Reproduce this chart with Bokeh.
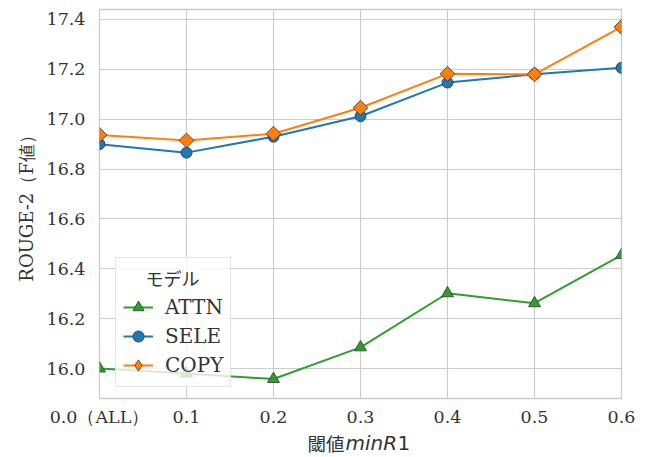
import numpy as np
from bokeh.plotting import figure
from bokeh.layouts import column
from bokeh.models import FixedTicker, Range1d, Legend, LegendItem, Label
from bokeh.embed import file_html
from bokeh.resources import INLINE

# data
thresholds = [0.0, 0.1, 0.2, 0.3, 0.4, 0.5, 0.6]
x_tick_labels = ["0.0（ALL）", "0.1", "0.2", "0.3", "0.4", "0.5", "0.6"]
y_ticks = [16.0, 16.2, 16.4, 16.6, 16.8, 17.0, 17.2, 17.4]
attn = [16.00, 15.98, 15.958, 16.085, 16.302, 16.262, 16.455]
sele = [16.900, 16.866, 16.930, 17.012, 17.147, 17.180, 17.206]
copy_ = [16.937, 16.915, 16.942, 17.046, 17.182, 17.180, 17.370]

SERIF = "DejaVu Serif"
CJK = "Noto Sans CJK JP"
TXT = "#333333"
GRID = "#cccccc"

W = 650
H1 = 429
p = figure(width=W, height=H1, output_backend="svg", toolbar_location=None,
           x_range=Range1d(0.0, 0.6), y_range=Range1d(15.88, 17.44),
           min_border_left=99, min_border_right=29, min_border_top=9, min_border_bottom=H1 - 399)
p.background_fill_color = "white"
p.border_fill_color = "white"
p.outline_line_color = GRID
p.outline_line_width = 1.3

for ax in (p.xaxis[0], p.yaxis[0]):
    ax.axis_line_color = None
    ax.major_tick_line_color = None
    ax.minor_tick_line_color = None
    ax.major_tick_out = 0
    ax.major_tick_in = 0
    ax.minor_tick_out = 0
    ax.minor_tick_in = 0
    ax.major_label_text_font = SERIF
    ax.major_label_text_font_size = "17.5px"
    ax.major_label_text_color = TXT

p.xaxis.ticker = FixedTicker(ticks=thresholds)
p.xaxis.major_label_overrides = {t: l for t, l in zip(thresholds, x_tick_labels)}
p.xaxis.major_label_standoff = 8
p.yaxis.ticker = FixedTicker(ticks=y_ticks)
p.yaxis.major_label_overrides = {t: f"{t:.1f}" for t in y_ticks}
p.yaxis.major_label_standoff = 14
p.yaxis.axis_label = "ROUGE-2（F値）"
p.yaxis.axis_label_text_font = SERIF
p.yaxis.axis_label_text_font_size = "18px"
p.yaxis.axis_label_text_font_style = "normal"
p.yaxis.axis_label_text_color = TXT
p.yaxis.axis_label_standoff = 7

p.xgrid.grid_line_color = GRID
p.ygrid.grid_line_color = GRID
p.xgrid.grid_line_width = 1.1
p.ygrid.grid_line_width = 1.1

series = [
    ("ATTN", attn, "#2ca02c", "triangle", 12, 0),
    ("SELE", sele, "#1f77b4", "circle", 11, 0),
    ("COPY", copy_, "#ff7f0e", "square", 10.5, np.pi / 4),
]
items = []
for name, vals, col, mk, sz, ang in series:
    l = p.line(thresholds, vals, line_color=col, line_width=2)
    if ang:
        # the legend draws markers unrotated, so a diamond (hidden under the
        # rotated squares) supplies the legend key
        s_key = p.scatter(thresholds, vals, marker="diamond", size=sz,
                          fill_color=col, line_color="#333333", line_width=0.8)
    s = p.scatter(thresholds, vals, marker=mk, size=sz, angle=ang,
                  fill_color=col, line_color="#333333", line_width=0.8)
    items.append(LegendItem(label=name, renderers=[l, s_key] if ang else [l, s]))

legend = Legend(items=items, location=(16, 11))
legend.title = "\u3000\u2005モデル"
legend.title_text_font = CJK
legend.title_text_font_size = "18px"
legend.title_text_font_style = "normal"
legend.title_text_color = TXT
legend.title_standoff = 2
legend.label_text_font = SERIF
legend.label_text_font_size = "20px"
legend.label_text_color = TXT
legend.glyph_width = 30
legend.glyph_height = 28
legend.label_height = 24
legend.label_standoff = 12
legend.spacing = 1
legend.padding = 7
legend.border_line_color = GRID
legend.border_line_width = 1
legend.background_fill_color = "white"
legend.background_fill_alpha = 0.8
p.add_layout(legend, "center")

# x-axis label (mixed styles) drawn in a thin strip below the plot
H2 = 457 - H1
p2 = figure(width=W, height=H2, output_backend="svg", toolbar_location=None, title=None,
            x_range=p.x_range, y_range=Range1d(0, H2),
            min_border_left=99, min_border_right=29, min_border_top=0, min_border_bottom=0)
p2.xaxis.visible = False
p2.yaxis.visible = False
p2.xgrid.visible = False
p2.ygrid.visible = False
p2.outline_line_color = None
p2.background_fill_color = "white"
p2.border_fill_color = "white"

lab_kw = dict(x=0.3, y=14.5, text_color=TXT, text_baseline="alphabetic", text_align="left")
p2.add_layout(Label(text="閾値", text_font=CJK, text_font_size="18.5px", x_offset=-53, **lab_kw))
p2.add_layout(Label(text="minR", text_font="DejaVu Sans", text_font_style="italic",
                    text_font_size="20px", x_offset=-15, **lab_kw))
p2.add_layout(Label(text="1", text_font="DejaVu Sans", text_font_size="20px", x_offset=37, **lab_kw))

layout = column(p, p2, spacing=0)
open("out.html", "w").write(file_html(layout, INLINE))
